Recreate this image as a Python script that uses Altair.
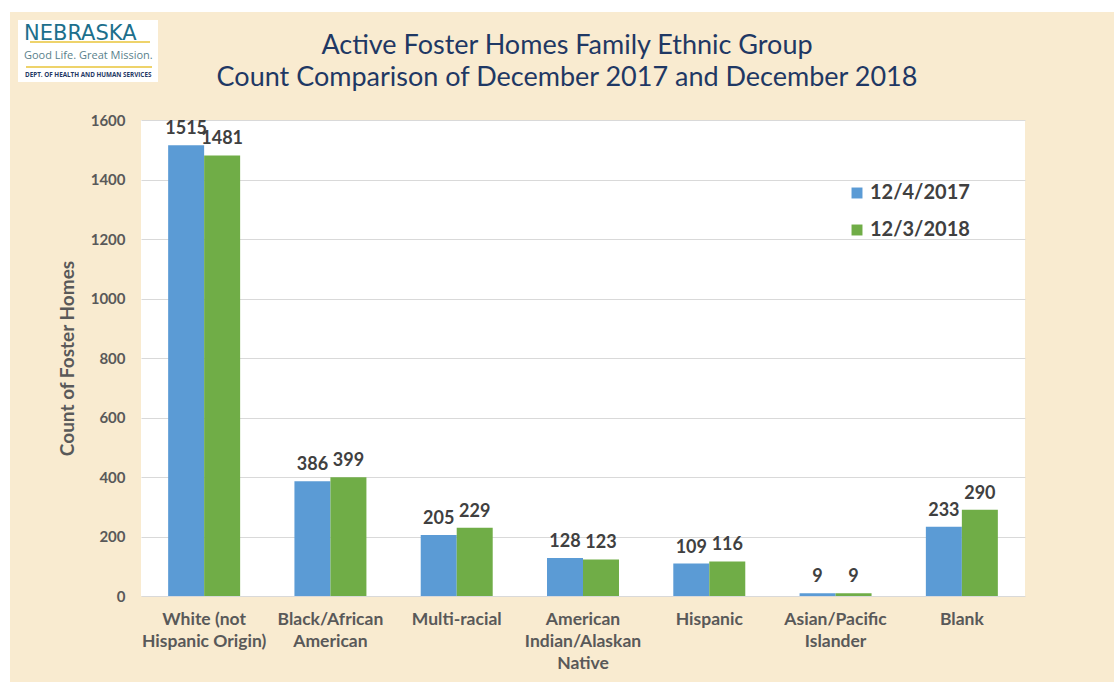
import altair as alt
import pandas as pd

categories = ["White (not\nHispanic Origin)", "Black/African\nAmerican", "Multi-racial",
              "American\nIndian/Alaskan\nNative", "Hispanic", "Asian/Pacific\nIslander", "Blank"]
series = ["12/4/2017", "12/3/2018"]
values_2017 = [1515, 386, 205, 128, 109, 9, 233]
values_2018 = [1481, 399, 229, 123, 116, 9, 290]
y_ticks = [0, 200, 400, 600, 800, 1000, 1200, 1400, 1600]
title_lines = ["Active Foster Homes Family Ethnic Group",
               "Count Comparison of December 2017 and December 2018"]

rows = []
for c, a, b in zip(categories, values_2017, values_2018):
    rows.append({"cat": c, "series": series[0], "value": a})
    rows.append({"cat": c, "series": series[1], "value": b})
df = pd.DataFrame(rows)

W, H = 884, 476
L, T = 141, 120
FONT = "Lato"
BG = "#f9ebd0"

x_enc = alt.X("cat:N", sort=categories, title=None,
              scale=alt.Scale(paddingInner=0.43, paddingOuter=0.215),
              axis=alt.Axis(labelExpr="split(datum.label, '\\n')", labelAngle=0,
                            labelFont=FONT, labelFontSize=17.5, labelFontWeight="bold",
                            labelColor="#595959", labelLineHeight=22, labelPadding=14,
                            ticks=False, domain=False, grid=False))
y_enc = alt.Y("value:Q", title="Count of Foster Homes",
              scale=alt.Scale(domain=[0, 1600], nice=False),
              axis=alt.Axis(values=y_ticks, format="d", labelFont=FONT, labelFontSize=15,
                            labelFontWeight="bold", labelColor="#595959", labelPadding=16,
                            ticks=False, domain=False, gridColor="#d9d9d9", gridWidth=1,
                            titleFont=FONT, titleFontSize=19, titleFontWeight="bold",
                            titleColor="#595959", titleAngle=270, titleX=-74, titleY=H / 2,
                            titleAlign="center", titleBaseline="middle"))
color_enc = alt.Color("series:N", sort=series, title=None,
                      scale=alt.Scale(domain=series, range=["#5b9bd5", "#70ad47"]),
                      legend=alt.Legend(orient="none", legendX=706, legendY=63,
                                        symbolType="square", symbolSize=120,
                                        symbolStrokeWidth=0, labelFont=FONT,
                                        labelFontSize=20, labelFontWeight="bold",
                                        labelColor="#404040", rowPadding=17,
                                        labelOffset=3))

base = alt.Chart(df)
bars = base.mark_bar().encode(x=x_enc, y=y_enc, xOffset=alt.XOffset("series:N", sort=series),
                              color=color_enc)
labels = base.mark_text(dy=-7, baseline="bottom", font=FONT, fontSize=18,
                        fontWeight="bold", color="#404040").encode(
    x=alt.X("cat:N", sort=categories), y="value:Q",
    xOffset=alt.XOffset("series:N", sort=series), text="value:Q")

# decoration: white margins, title and logo
deco = pd.DataFrame({"k": [0]})
dbase = alt.Chart(deco)
top_strip = dbase.mark_rect(color="white").encode(
    x=alt.value(-L), x2=alt.value(1114 - L), y=alt.value(-T), y2=alt.value(12 - T))
left_strip = dbase.mark_rect(color="white").encode(
    x=alt.value(-L), x2=alt.value(10 - L), y=alt.value(-T), y2=alt.value(682 - T))
title1 = dbase.mark_text(text=title_lines[0], font=FONT, fontSize=27, color="#1f3864",
                         align="center", baseline="middle").encode(
    x=alt.value(567 - L), y=alt.value(46 - T))
title2 = dbase.mark_text(text=title_lines[1], font=FONT, fontSize=27, color="#1f3864",
                         align="center", baseline="middle").encode(
    x=alt.value(567 - L), y=alt.value(78 - T))
logo_box = dbase.mark_rect(color="white").encode(
    x=alt.value(18 - L), x2=alt.value(158 - L), y=alt.value(20 - T), y2=alt.value(82 - T))
logo_line = dbase.mark_rule(color="#e8c43a", strokeWidth=1.5).encode(
    x=alt.value(26 - L), x2=alt.value(152 - L), y=alt.value(67 - T))
logo_swoosh = dbase.mark_rule(color="#e8c43a", strokeWidth=1.5).encode(
    x=alt.value(30 - L), x2=alt.value(150 - L), y=alt.value(42 - T))
logo_t1 = dbase.mark_text(text="NEBRASKA", font="DejaVu Sans", fontSize=21,
                          color="#1c6f8c", align="left", baseline="middle").encode(
    x=alt.value(24 - L), y=alt.value(34 - T))
logo_t2 = dbase.mark_text(text="Good Life. Great Mission.", font="Open Sans", fontSize=11,
                          color="#5a7f8c", align="left", baseline="middle").encode(
    x=alt.value(24 - L), y=alt.value(56 - T))
logo_t3 = dbase.mark_text(text="DEPT. OF HEALTH AND HUMAN SERVICES", font="Open Sans",
                          fontSize=6.3, fontWeight="bold", color="#1f3864",
                          align="left", baseline="middle").encode(
    x=alt.value(25 - L), y=alt.value(75 - T))

chart = alt.layer(top_strip, left_strip, title1, title2, logo_box, logo_swoosh, logo_line,
                  logo_t1, logo_t2, logo_t3, bars, labels).properties(
    width=W, height=H,
    autosize=alt.AutoSizeParams(type="none"),
    padding={"left": L, "top": T, "right": 1114 - L - W, "bottom": 682 - T - H},
    background=BG,
).configure_view(fill="white", stroke=None)

chart.save("out.html", embed_options={"renderer": "svg", "actions": False})
